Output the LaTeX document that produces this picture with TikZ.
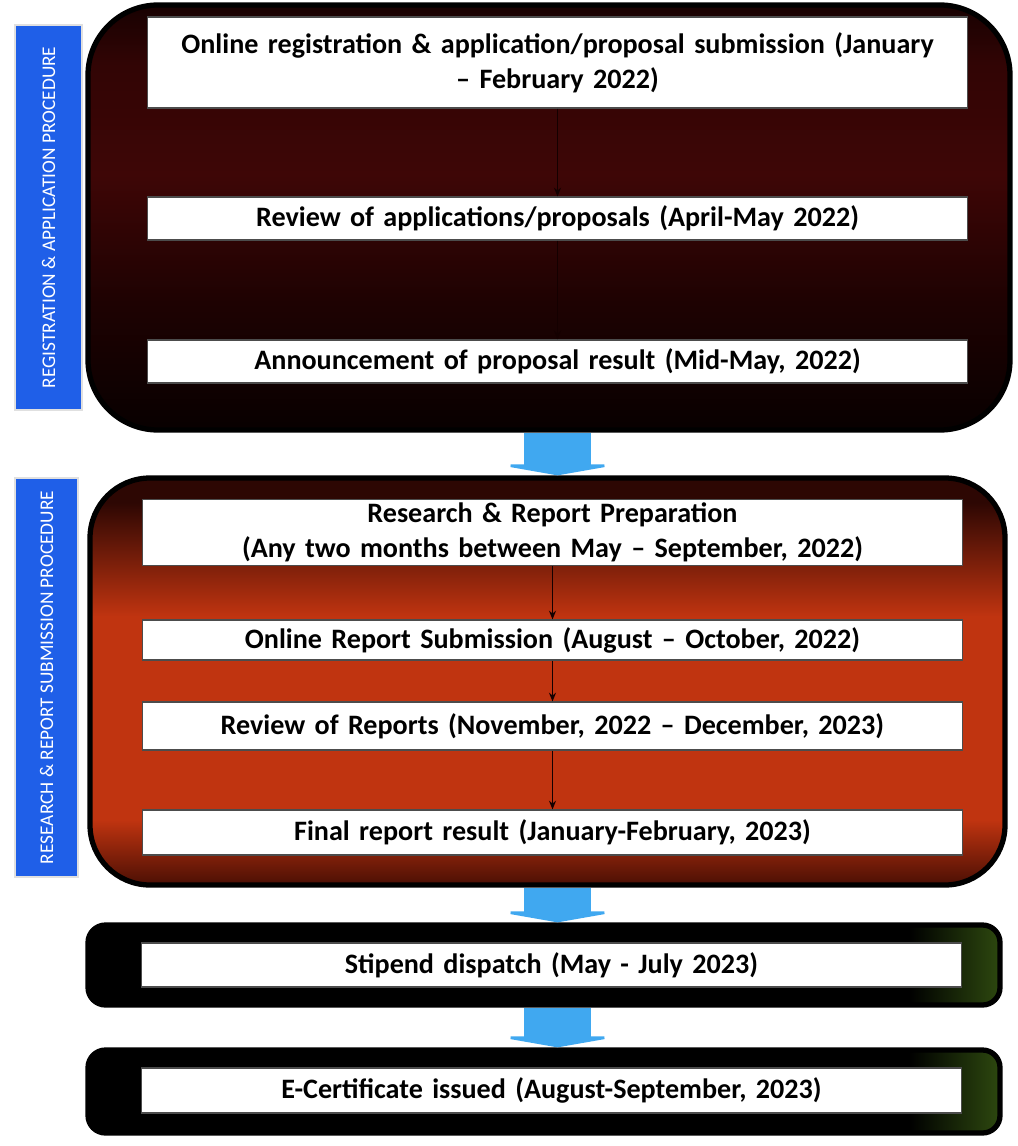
\documentclass[tikz,border=0pt]{standalone}
\usepackage{fontspec}
\setmainfont{Carlito}
\usetikzlibrary{positioning,arrows.meta}

\definecolor{sideblue}{RGB}{31,95,232}
\definecolor{arrowblue}{RGB}{64,168,240}
\definecolor{flowdark}{RGB}{20,0,0}
\definecolor{regtop}{RGB}{24,1,1}
\definecolor{regmid}{RGB}{62,6,6}
\definecolor{reglow}{RGB}{30,2,2}
\definecolor{regbot}{RGB}{8,0,0}
\definecolor{restop}{RGB}{45,7,3}
\definecolor{resred}{RGB}{192,52,16}
\definecolor{resbot}{RGB}{75,15,4}
\definecolor{endgreen}{RGB}{45,72,15}

\pgfdeclareverticalshading{regshade}{100bp}{color(0bp)=(regbot); color(25bp)=(regbot);
  color(40bp)=(reglow); color(55bp)=(regmid); color(68bp)=(regmid!80!black);
  color(75bp)=(regtop); color(100bp)=(regtop)}
\pgfdeclareverticalshading{resshade}{100bp}{color(0bp)=(resbot); color(25bp)=(resbot);
  color(33bp)=(resred); color(58bp)=(resred); color(72bp)=(restop); color(100bp)=(restop)}
\pgfdeclarehorizontalshading{endshade}{100bp}{color(0bp)=(black); color(70bp)=(black);
  color(75bp)=(endgreen); color(100bp)=(endgreen)}

\tikzset{
  stepbox/.style={draw=black!70, fill=white, line width=0.6pt, minimum width=16.4cm,
    text width=16.2cm, align=center, inner sep=2pt,
    font=\fontsize{16}{20}\selectfont\bfseries},
  panel/.style={draw=black, line width=3pt, rounded corners=#1},
  sidelabel/.style={draw=black!12, line width=1.2pt, fill=sideblue, text=white, rotate=90,
    font=\fontsize{11}{13}\selectfont, inner sep=1pt},
  flow/.style={-{Stealth[length=5pt,width=4pt]}, line width=1pt, color=flowdark},
  blockarrow/.style={line width=1.34cm, color=arrowblue, -{Triangle[width=2.5cm,length=0.22cm]}},
}

\begin{document}
\begin{tikzpicture}
    \useasboundingbox (0,0) rectangle (20.34,-22.92);
    \fill[white] (0,0) rectangle (20.34,-22.92);
    % The four panels
    \node[panel=1.4cm, shading=regshade,
      minimum width=18.44cm, minimum height=8.5cm] (regpanel) at (10.98,-4.35) {};
    \node[panel=1.2cm, shading=resshade,
      minimum width=18.3cm, minimum height=8.14cm] (respanel) at (10.95,-13.63) {};
    \node[panel=0.35cm, shading=endshade,
      minimum width=18.24cm, minimum height=1.6cm] (stippanel) at (10.88,-19.3) {};
    \node[panel=0.35cm, shading=endshade,
      minimum width=18.24cm, minimum height=1.66cm] (certpanel) at (10.88,-21.83) {};
    % Side labels
    \node[sidelabel, minimum width=7.7cm, minimum height=1.34cm] (reglabel) at (0.97,-4.35)
      {REGISTRATION \& APPLICATION PROCEDURE};
    \node[sidelabel, minimum width=7.98cm, minimum height=1.26cm] (reslabel) at (0.93,-13.55)
      {RESEARCH \& REPORT SUBMISSION PROCEDURE};
    % Registration steps
    \node[stepbox, minimum height=1.82cm] (online) at (11.15,-1.25)
      {Online registration \& application/proposal submission (January\\-- February 2022)};
    \node[stepbox, minimum height=0.86cm] (review) at (11.15,-4.37)
      {Review of applications/proposals (April-May 2022)};
    \node[stepbox, minimum height=0.86cm] (announce) at (11.15,-7.23)
      {Announcement of proposal result (Mid-May, 2022)};
    \draw[flow] (online) -- (review);
    \draw[flow] (review) -- (announce);
    % Research steps
    \node[stepbox, minimum height=1.3cm] (prep) at (11.05,-10.65)
      {Research \& Report Preparation\\(Any two months between May -- September, 2022)};
    \node[stepbox, minimum height=0.8cm] (submit) at (11.05,-12.8)
      {Online Report Submission (August -- October, 2022)};
    \node[stepbox, minimum height=0.96cm] (reports) at (11.05,-14.52)
      {Review of Reports (November, 2022 -- December, 2023)};
    \node[stepbox, minimum height=0.9cm] (final) at (11.05,-16.65)
      {Final report result (January-February, 2023)};
    \draw[flow] (prep) -- (submit);
    \draw[flow] (submit) -- (reports);
    \draw[flow] (reports) -- (final);
    % Last two steps
    \node[stepbox, minimum height=0.88cm] (stipend) at (11.03,-19.3)
      {Stipend dispatch (May - July 2023)};
    \node[stepbox, minimum height=0.9cm] (certificate) at (11.03,-21.81)
      {E-Certificate issued (August-September, 2023)};
    % Big arrows between panels
    \draw[blockarrow] (regpanel.south -| online) -- (respanel.north -| online);
    \draw[blockarrow] (respanel.south -| online) -- (stippanel.north -| online);
    \draw[blockarrow] (stippanel.south -| online) -- (certpanel.north -| online);
\end{tikzpicture}
\end{document}
